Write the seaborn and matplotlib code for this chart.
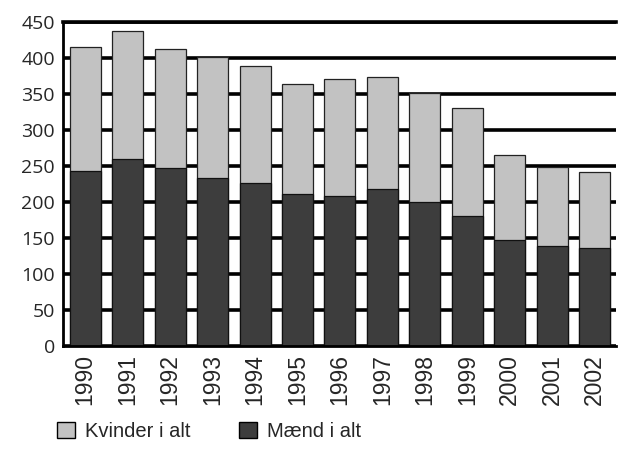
import pandas as pd
import seaborn as sns
import matplotlib.pyplot as plt
from matplotlib.patches import Patch

years = ["1990", "1991", "1992", "1993", "1994", "1995", "1996",
         "1997", "1998", "1999", "2000", "2001", "2002"]
maend = [243, 260, 247, 234, 227, 211, 208, 218, 200, 180, 148, 139, 136]
kvinder = [172, 178, 165, 168, 162, 153, 163, 156, 152, 150, 117, 110, 106]

df = pd.DataFrame({"year": years, "maend": maend, "kvinder": kvinder})
df["total"] = df["maend"] + df["kvinder"]

sns.set_style("white")
plt.rcParams["font.family"] = ["Liberation Sans", "DejaVu Sans"]

light = "#c2c2c2"
dark = "#3d3d3d"

fig = plt.figure(figsize=(6.19, 4.59), dpi=100)
ax = fig.add_axes([0.102, 0.246, 0.893, 0.706])

# gridlines behind the bars
ax.set_axisbelow(True)
ax.yaxis.grid(True, color="black", linewidth=2.6)

# total first (women on top), then men drawn over it
sns.barplot(data=df, x="year", y="total", color=light, saturation=1,
            width=0.73, edgecolor="#222222", linewidth=0.9, ax=ax)
sns.barplot(data=df, x="year", y="maend", color=dark, saturation=1,
            width=0.73, edgecolor="#111111", linewidth=0.9, ax=ax)

ax.set_ylim(0, 450)
ax.set_yticks(range(0, 451, 50))
ax.set_xlim(-0.52, 12.5)
ax.set_xlabel("")
ax.set_ylabel("")

ax.spines["right"].set_visible(False)
for s in ["left", "bottom", "top"]:
    ax.spines[s].set_color("black")
ax.spines["left"].set_linewidth(2)
ax.spines["bottom"].set_linewidth(2)
ax.spines["top"].set_linewidth(2.6)

ax.tick_params(axis="y", labelsize=14, length=0, pad=6)
ax.tick_params(axis="x", labelsize=16.5, length=0, pad=6, rotation=90)
for lab in ax.get_yticklabels():
    lab.set_family(["Open Sans", "DejaVu Sans"])

handles = [Patch(facecolor=light, edgecolor="black", label="Kvinder i alt"),
           Patch(facecolor=dark, edgecolor="black", label="Mænd i alt")]
fig.legend(handles=handles, loc="lower left", bbox_to_anchor=(0.062, 0.0),
           ncol=2, frameon=False, fontsize=14.5, handlelength=0.9,
           handleheight=0.9, columnspacing=2.4, handletextpad=0.5)

fig.savefig("out.png", dpi=100)
